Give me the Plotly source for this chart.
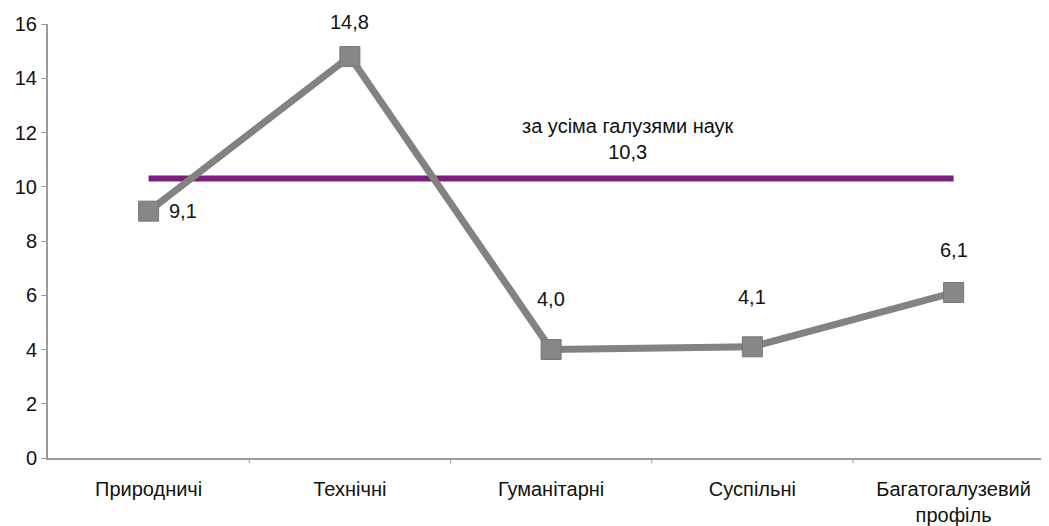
import plotly.graph_objects as go

categories = ["Природничі", "Технічні", "Гуманітарні", "Суспільні", "Багатогалузевий<br>профіль"]
values = [9.1, 14.8, 4.0, 4.1, 6.1]
value_labels = ["9,1", "14,8", "4,0", "4,1", "6,1"]
average = 10.3
average_label = "за усіма галузями наук<br>10,3"
y_ticks = [0, 2, 4, 6, 8, 10, 12, 14, 16]

font = dict(family="Liberation Sans, Arial, sans-serif", size=20, color="#111111")

fig = go.Figure()
fig.add_trace(go.Scatter(
    x=[0, len(categories) - 1], y=[average, average], mode="lines",
    line=dict(color="#7b1e7e", width=6), hoverinfo="skip", showlegend=False,
))
fig.add_trace(go.Scatter(
    x=list(range(len(categories))), y=values, mode="lines+markers",
    line=dict(color="#828282", width=7),
    marker=dict(symbol="square", size=20, color="#878787", line=dict(color="#777777", width=1)),
    showlegend=False,
))

# label offsets (pixels) as seen in the reference
label_shift = [None, 22, 38, 37, 30]
for i, (v, lab, sh) in enumerate(zip(values, value_labels, label_shift)):
    if sh is None:
        fig.add_annotation(x=i, y=v, text=lab, showarrow=False, font=font,
                           xanchor="left", yanchor="middle", xshift=18)
    else:
        fig.add_annotation(x=i, y=v, text=lab, showarrow=False, font=font,
                           xanchor="center", yanchor="bottom", yshift=sh)

fig.add_annotation(x=2.38, y=average, text=average_label, showarrow=False, font=font,
                   xanchor="center", yanchor="bottom", yshift=14)

fig.update_layout(
    width=1041, height=518,
    margin=dict(l=40, r=0, t=16, b=66),
    paper_bgcolor="white", plot_bgcolor="white",
    font=font,
    xaxis=dict(
        range=[-0.5, 4.474], tickmode="array", tickvals=list(range(len(categories))),
        ticktext=categories, showgrid=False, zeroline=False,
        showline=True, linecolor="#9a9a9a", linewidth=2, ticks="",
        tickfont=font, ticklabelstandoff=12,
    ),
    yaxis=dict(
        range=[0, 16], tickvals=y_ticks, showgrid=False, zeroline=False,
        showline=True, linecolor="#9a9a9a", linewidth=2,
        ticks="outside", ticklen=5, tickcolor="#9a9a9a", tickfont=font,
    ),
)
# category boundary ticks on x axis
for b in [0.5, 1.5, 2.5, 3.5]:
    fig.add_shape(type="line", xref="x", yref="paper", x0=b, x1=b, y0=0, y1=-0.012,
                  line=dict(color="#9a9a9a", width=1))

fig.write_html("out.html")
